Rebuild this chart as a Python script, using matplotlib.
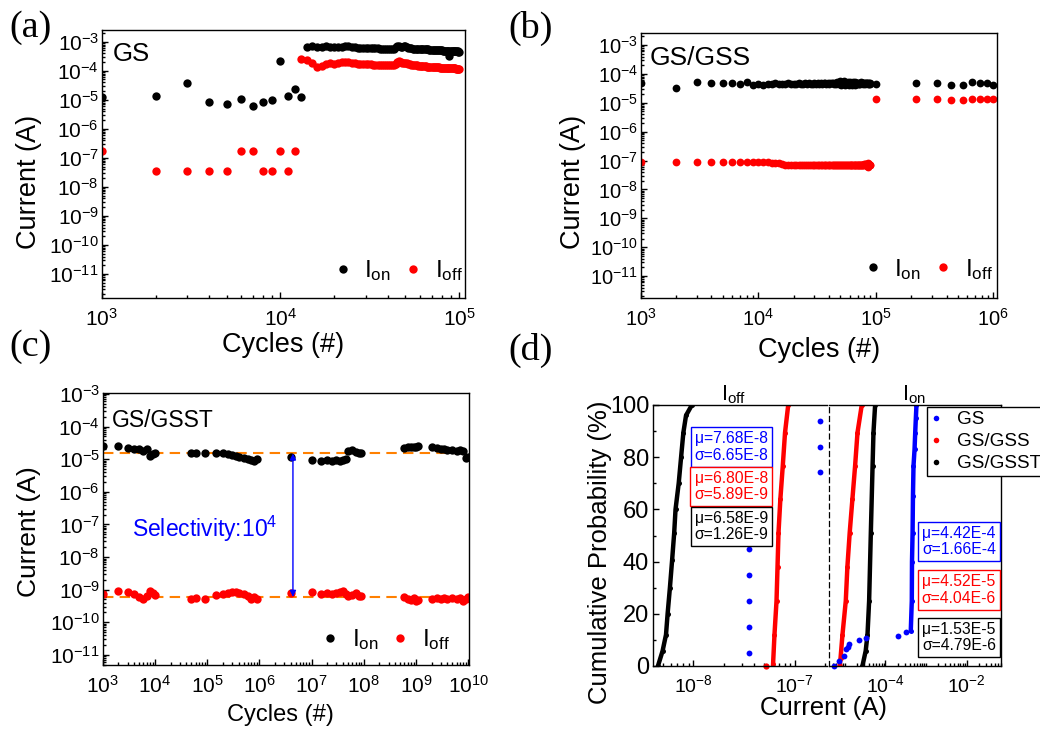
import numpy as np
import matplotlib
matplotlib.use('Agg')
import matplotlib.pyplot as plt
from matplotlib.ticker import FixedLocator, LogLocator, LogFormatterSciNotation, NullFormatter, MultipleLocator
from matplotlib.lines import Line2D

plt.rcParams['font.family'] = ['Liberation Sans', 'DejaVu Sans']
plt.rcParams['mathtext.fontset'] = 'custom'
plt.rcParams['mathtext.rm'] = 'Liberation Sans'
plt.rcParams['mathtext.it'] = 'Liberation Sans:italic'
plt.rcParams['mathtext.bf'] = 'Liberation Sans:bold'
plt.rcParams['axes.linewidth'] = 1.0

# ---------------- data: panel (a) GS ----------------
a_on_sparse_cycles = [1000, 2000, 3000, 4000, 5000, 6000, 7000, 8000, 9000, 10000, 11000, 12000, 13000]
a_on_sparse = [1.2e-5, 1.4e-5, 3.7e-5, 8.5e-6, 7.1e-6, 1.1e-5, 6.0e-6, 8.5e-6, 9.8e-6, 2.2e-4, 1.4e-5, 2.4e-5, 1.25e-5]
a_off_sparse_cycles = [1000, 2000, 3000, 4000, 5000, 6000, 7000, 8000, 9000, 10000, 11000, 12000]
a_off_sparse = [1.75e-7, 3.6e-8, 3.6e-8, 3.6e-8, 3.6e-8, 1.75e-7, 1.75e-7, 3.6e-8, 3.6e-8, 1.75e-7, 3.6e-8, 1.75e-7]
a_on_dense_kcycles = [14, 15, 16, 17, 18, 19, 20, 21, 22, 23, 24, 25, 26, 27, 28, 29, 30, 31, 32, 33,
                      34, 35, 36, 37, 38, 39, 40, 41, 42, 43, 44, 45, 46, 47, 48, 49, 50, 51, 52, 53,
                      54, 55, 56, 57, 58, 59, 60, 61, 62, 63, 64, 65, 66, 67, 68, 69, 70, 71, 72, 73,
                      74, 75, 76, 77, 78, 79, 80, 81, 82, 83, 84, 85, 86, 87, 88, 89, 90, 91, 92, 93,
                      94, 95, 96, 97, 98, 99, 100]
a_on_dense_e4 = [6.8, 6.9, 6.7, 6.8, 6.9, 6.6, 6.7, 6.5, 6.6, 6.9, 7.1, 6.6, 6.4, 6.3, 6.2, 6.2, 6.1, 6.0, 6.0, 5.9,
                 5.9, 5.9, 5.8, 5.8, 5.8, 5.8, 5.7, 5.7, 5.7, 5.8, 6.6, 7.0, 7.2, 6.8, 6.5, 6.9, 7.0, 6.6, 6.3, 6.0,
                 5.9, 5.8, 5.8, 5.7, 5.7, 5.6, 5.6, 5.6, 5.5, 5.5, 5.5, 5.4, 5.4, 5.4, 5.3, 5.3, 5.3, 5.2, 5.2, 5.2,
                 5.1, 5.1, 5.1, 5.0, 5.0, 5.0, 5.0, 4.9, 4.9, 4.9, 4.9, 4.8, 4.8, 4.8, 3.2, 4.8, 4.7, 4.7, 4.7, 4.7,
                 4.6, 4.6, 4.6, 4.6, 4.6, 4.5, 4.5]
a_off_dense_kcycles = [13, 14, 15, 16, 17, 18, 19, 20, 21, 22, 23, 24, 25, 26, 27, 28, 29, 30, 31, 32,
                       33, 34, 35, 36, 37, 38, 39, 40, 41, 42, 43, 44, 45, 46, 47, 48, 49, 50, 51, 52,
                       53, 54, 55, 56, 57, 58, 59, 60, 61, 62, 63, 64, 65, 66, 67, 68, 69, 70, 71, 72,
                       73, 74, 75, 76, 77, 78, 79, 80, 81, 82, 83, 84, 85, 86, 87, 88, 89, 90, 91, 92,
                       93, 94, 95, 96, 97, 98, 99, 100]
a_off_dense_e4 = [2.5, 2.4, 1.9, 1.35, 1.5, 1.7, 1.9, 1.75, 1.8, 2.0, 2.05, 1.95, 1.85, 1.8, 1.75, 1.72, 1.7, 1.68, 1.66, 1.65,
                  1.63, 1.62, 1.6, 1.6, 1.58, 1.58, 1.57, 1.56, 1.56, 1.55, 1.55, 1.65, 2.0, 2.1, 1.95, 1.8, 1.85, 1.9, 1.8, 1.7,
                  1.65, 1.6, 1.58, 1.55, 1.53, 1.52, 1.5, 1.48, 1.47, 1.45, 1.44, 1.43, 1.42, 1.4, 1.39, 1.38, 1.37, 1.36, 1.35, 1.34,
                  1.33, 1.32, 1.31, 1.3, 1.3, 1.29, 1.28, 1.27, 1.27, 1.26, 1.25, 1.25, 1.24, 1.24, 1.23, 1.23, 1.22, 1.22, 1.21, 1.21,
                  1.2, 1.2, 1.2, 1.19, 1.19, 1.18, 1.18, 1.18]

# ---------------- data: panel (b) GS/GSS ----------------
b_early_cycles = [1000, 2000, 3000, 4000, 5000, 6000, 7000, 8000, 9000]
b_on_early = [4.7e-5, 3.2e-5, 5.1e-5, 4.7e-5, 4.8e-5, 4.7e-5, 4.6e-5, 5.3e-5, 4.2e-5]
b_off_early = [8.8e-8, 9.1e-8, 9.0e-8, 8.9e-8, 9.1e-8, 9.0e-8, 8.9e-8, 8.8e-8, 8.7e-8]
b_dense_kcycles = [10, 11, 12, 13, 14, 15, 16, 17, 18, 19, 20, 21, 22, 23, 24, 25, 26, 27, 28, 29,
                   30, 31, 32, 33, 34, 35, 36, 37, 38, 39, 40, 41, 42, 43, 44, 45, 46, 47, 48, 49,
                   50, 51, 52, 53, 54, 55, 56, 57, 58, 59, 60, 61, 62, 63, 64, 65, 66, 67, 68, 69,
                   70, 71, 72, 73, 74, 75, 76, 77, 78, 79, 80, 81, 82, 83, 84, 85, 86, 87, 88, 89, 90]
b_on_dense_e5 = [4.5, 4.3, 4.6, 4.4, 4.7, 4.5, 4.6, 4.4, 4.7, 4.5,
                 4.6, 4.4, 4.8, 4.5, 4.6, 4.7, 4.5, 4.8, 4.6, 4.5,
                 4.8, 4.6, 4.7, 4.5, 4.9, 4.6, 4.7, 4.8, 4.5, 4.9,
                 4.6, 4.8, 4.7, 5.0, 4.6, 4.9, 4.5, 5.1, 4.7, 4.4,
                 5.5, 4.2, 5.3, 4.8, 5.6, 4.1, 5.0, 4.6, 5.4, 4.0,
                 5.2, 4.5, 5.0, 4.3, 5.3, 4.7, 4.2, 5.1, 4.6, 4.9,
                 4.4, 5.0, 4.6, 4.8, 4.5, 5.1, 4.7, 4.9, 4.6, 5.0,
                 4.8, 4.6, 5.0, 4.7, 4.9, 4.5, 4.8, 4.7, 4.6, 4.7, 4.5]
b_off_dense_e8 = [8.7, 8.6, 8.6, 8.5, 8.4, 8.3, 7.6, 7.2, 7.0, 7.1,
                  7.0, 7.1, 6.9, 7.0, 7.1, 6.9, 7.0, 7.0, 6.9, 7.1,
                  7.0, 6.9, 7.1, 7.0, 6.8, 7.0, 7.1, 6.9, 7.0, 7.0,
                  6.9, 7.1, 7.0, 6.9, 7.0, 7.2, 6.9, 7.0, 7.1, 7.0,
                  6.9, 7.0, 7.2, 7.0, 6.9, 7.1, 7.0, 6.9, 7.1, 7.0,
                  7.0, 7.1, 6.9, 7.0, 7.2, 7.0, 6.9, 7.1, 7.0, 7.2,
                  7.1, 7.0, 7.2, 7.1, 7.0, 7.2, 7.3, 7.1, 7.2, 7.4,
                  7.2, 7.5, 7.3, 7.8, 6.4, 8.0, 6.0, 7.6, 6.8, 7.2, 7.0]
b_late_cycles = [1.0e5, 2.2e5, 3.3e5, 4.4e5, 5.5e5, 6.6e5, 7.7e5, 8.8e5, 9.9e5]
b_on_late = [4.4e-5, 4.7e-5, 4.7e-5, 4.3e-5, 4.1e-5, 5.3e-5, 4.9e-5, 4.8e-5, 4.0e-5]
b_off_late = [1.35e-5, 1.35e-5, 1.32e-5, 1.3e-5, 1.3e-5, 1.33e-5, 1.33e-5, 1.35e-5, 1.37e-5]

# ---------------- data: panel (c) GS/GSST ----------------
c_cycles = [1e3, 2e3, 3e3, 4e3, 5e3, 6e3, 7e3, 8e3, 9e3, 1e4,
            5e4, 6e4, 9e4,
            1.5e5, 2e5, 2.5e5, 3e5, 3.5e5, 4e5, 5e5, 6e5, 7e5, 8e5, 9e5,
            4e6,
            1e7, 1.5e7, 2e7, 2.5e7, 3e7, 3.5e7, 4e7, 4.5e7, 5e7, 6e7, 7e7, 8e7, 9e7,
            6e8, 7e8, 8e8, 9e8, 1e9, 1.1e9,
            2e9, 2.5e9, 3e9, 3.5e9, 4e9, 5e9, 6e9, 7e9, 8e9, 9e9, 1e10]
c_on = [2.6e-5, 2.5e-5, 2.2e-5, 2.1e-5, 2.0e-5, 1.8e-5, 2.0e-5, 1.3e-5, 1.4e-5, 1.6e-5,
        1.6e-5, 1.6e-5, 1.6e-5,
        1.55e-5, 1.5e-5, 1.4e-5, 1.35e-5, 1.3e-5, 1.2e-5, 1.1e-5, 1.0e-5, 9.5e-6, 9.0e-6, 1.05e-5,
        1.2e-5,
        9.5e-6, 9.0e-6, 9.2e-6, 9.0e-6, 9.3e-6, 8.8e-6, 9.2e-6, 1.0e-5, 1.8e-5, 1.9e-5, 1.7e-5, 1.6e-5, 1.6e-5,
        2.2e-5, 2.3e-5, 2.3e-5, 2.4e-5, 2.4e-5, 2.5e-5,
        2.4e-5, 2.2e-5, 2.1e-5, 2.0e-5, 1.9e-5, 1.9e-5, 1.8e-5, 1.9e-5, 1.8e-5, 1.1e-5, 1.2e-5]
c_off = [7.3e-10, 9.3e-10, 8.2e-10, 7.6e-10, 6.0e-10, 5.0e-10, 6.5e-10, 9.0e-10, 8.0e-10, 7.0e-10,
         5.1e-10, 5.7e-10, 5.2e-10,
         6.8e-10, 7.5e-10, 8.0e-10, 8.7e-10, 8.5e-10, 7.8e-10, 7.2e-10, 6.2e-10, 5.2e-10, 6.0e-10, 5.0e-10,
         7.7e-10,
         8.2e-10, 7.5e-10, 7.8e-10, 7.2e-10, 8.0e-10, 8.5e-10, 8.8e-10, 7.5e-10, 6.5e-10, 6.8e-10, 8.0e-10, 6.5e-10, 6.2e-10,
         6.0e-10, 5.0e-10, 4.8e-10, 5.5e-10, 4.6e-10, 4.8e-10,
         5.3e-10, 5.6e-10, 5.0e-10, 5.5e-10, 5.2e-10, 5.6e-10, 5.0e-10, 5.4e-10, 4.6e-10, 5.2e-10, 6.0e-10]
c_on_mean = 1.6e-5
c_off_mean = 6.0e-10
c_arrow_cycle = 4.4e6
c_arrow_top = 1.5e-5
c_arrow_bottom = 6.0e-10

# ---------------- data: panel (d) cumulative distributions ----------------
d_off_gsst_I = [4.5e-9, 5.0e-9, 5.4e-9, 5.6e-9, 5.9e-9, 6.2e-9, 6.5e-9, 6.7e-9, 7.2e-9, 7.6e-9, 8.0e-9, 8.5e-9, 9.7e-9]
d_off_gsst_P = [0, 5.8, 12, 20, 30, 40.5, 51, 60, 70, 80, 89.4, 96, 100]
d_off_gss_I = [6.1e-8, 6.3e-8, 6.6e-8, 6.75e-8, 6.9e-8, 7.2e-8, 7.6e-8, 8.0e-8, 8.6e-8]
d_off_gss_P = [0.6, 12, 25, 38, 51, 64, 76.6, 89.4, 100]
d_off_gss_out_I = [5.2e-8]
d_off_gss_out_P = [0]
d_off_gs_I = [3.5e-8, 3.5e-8, 3.5e-8, 3.5e-8, 3.5e-8, 1.77e-7, 1.77e-7, 1.77e-7]
d_off_gs_P = [5.1, 14.8, 24.8, 34.7, 44.7, 74.3, 84, 94]
d_on_gss_I = [7.4e-6, 7.8e-6, 8.7e-6, 1.05e-5, 1.15e-5, 1.31e-5, 1.53e-5, 1.78e-5, 2.04e-5, 2.6e-5]
d_on_gss_P = [0, 3, 12, 25, 38, 51, 64, 76.6, 89.4, 100]
d_on_gsst_I = [2.7e-5, 3.25e-5, 3.6e-5, 3.95e-5, 4.35e-5, 4.8e-5, 5.05e-5, 5.55e-5]
d_on_gsst_P = [0, 5.8, 12, 25, 51, 76.6, 89.4, 100]
d_on_gs_low_I = [5.3e-6, 7.1e-6, 9.5e-6, 1.09e-5, 1.2e-5, 1.26e-5, 2.2e-5, 3.25e-5, 1.98e-4, 3.2e-4]
d_on_gs_low_P = [0, 1.9, 3.9, 6.4, 7.4, 8.4, 9.9, 10.9, 11.6, 12.9]
d_on_gs_I = [4.2e-4, 4.45e-4, 4.5e-4, 4.65e-4, 4.75e-4, 4.9e-4, 5.2e-4, 5.4e-4, 5.6e-4, 5.8e-4]
d_on_gs_P = [13.5, 25, 40, 51, 65, 76.6, 83, 89.4, 95, 100]

d_series = ['GS', 'GS/GSS', 'GS/GSST']
d_off_stats = ['\u03bc=7.68E-8\n\u03c3=6.65E-8', '\u03bc=6.80E-8\n\u03c3=5.89E-9', '\u03bc=6.58E-9\n\u03c3=1.26E-9']
d_on_stats = ['\u03bc=4.42E-4\n\u03c3=1.66E-4', '\u03bc=4.52E-5\n\u03c3=4.04E-6', '\u03bc=1.53E-5\n\u03c3=4.79E-6']

decades_a = [1e-11, 1e-10, 1e-9, 1e-8, 1e-7, 1e-6, 1e-5, 1e-4, 1e-3]

# ---------------- figure ----------------
W, H = 1040, 744
fig = plt.figure(figsize=(W / 100, H / 100), dpi=100)

def px_axes(l, t, r, b):
    return fig.add_axes([l / W, 1 - b / H, (r - l) / W, (b - t) / H])

def ftext(x, y, s, **kw):
    return fig.text(x / W, 1 - y / H, s, **kw)

RED = '#FF0000'
BLUE = '#0000FF'
ORANGE = '#FF8000'

def style_log_axes(ax, xticks, fs):
    ax.set_xscale('log')
    ax.set_yscale('log')
    ax.xaxis.set_major_locator(FixedLocator(xticks))
    ax.xaxis.set_minor_locator(LogLocator(base=10, subs=np.arange(2, 10), numticks=100))
    ax.yaxis.set_major_locator(FixedLocator(decades_a))
    ax.yaxis.set_minor_locator(LogLocator(base=10, subs=np.arange(2, 10), numticks=100))
    ax.xaxis.set_major_formatter(LogFormatterSciNotation())
    ax.yaxis.set_major_formatter(LogFormatterSciNotation())
    ax.xaxis.set_minor_formatter(NullFormatter())
    ax.yaxis.set_minor_formatter(NullFormatter())
    ax.tick_params(which='both', direction='in', top=False, right=False, width=1.0)
    ax.tick_params(which='major', length=4, labelsize=fs)
    ax.tick_params(which='minor', length=2)
    ax.tick_params(axis='y', pad=2)
    ax.tick_params(axis='x', pad=7)

def onoff_legend(ax, anchor, fs=17.5):
    h = [Line2D([], [], ls='none', marker='o', ms=6, color='black', mew=0),
         Line2D([], [], ls='none', marker='o', ms=6, color=RED, mew=0)]
    ax.legend(h, ['I$_{\\rm on}$', 'I$_{\\rm off}$'], loc='center', bbox_to_anchor=anchor,
              ncol=2, frameon=False, fontsize=fs, handlelength=0.8, handletextpad=0.5,
              columnspacing=0.5, borderpad=0, borderaxespad=0)

# ---- (a)
axa = px_axes(101.7, 30, 465, 297.7)
kc_on = [k * 1000 for k in a_on_dense_kcycles]
kc_off = [k * 1000 for k in a_off_dense_kcycles]
axa.plot(a_on_sparse_cycles, a_on_sparse, 'o', color='black', ms=6, mew=0)
axa.plot(kc_on, [v * 1e-4 for v in a_on_dense_e4], 'o', color='black', ms=6, mew=0)
axa.plot(a_off_sparse_cycles, a_off_sparse, 'o', color=RED, ms=6, mew=0)
axa.plot(kc_off, [v * 1e-4 for v in a_off_dense_e4], 'o', color=RED, ms=6, mew=0)
style_log_axes(axa, [1e3, 1e4, 1e5], 15)
axa.set_xlim(1000, 1.077e5)
axa.set_ylim(1.53e-12, 2.53e-3)
axa.text(0.03, 0.91, 'GS', transform=axa.transAxes, fontsize=18.5, va='center', ha='left')
onoff_legend(axa, (0.815, 0.10))
ftext(29, 181.7, 'Current (A)', rotation=90, fontsize=19.5, ha='center', va='center')
ftext(283.3, 345, 'Cycles (#)', fontsize=19.5, ha='center', va='center')

# ---- (b)
axb = px_axes(640.7, 33.3, 997.3, 298.3)
kc_b = [k * 1000 for k in b_dense_kcycles]
axb.plot(b_early_cycles, b_on_early, 'o', color='black', ms=5.6, mew=0)
axb.plot(kc_b, [v * 1e-5 for v in b_on_dense_e5], 'o', color='black', ms=5.6, mew=0)
axb.plot(b_late_cycles, b_on_late, 'o', color='black', ms=5.6, mew=0)
axb.plot(b_early_cycles, b_off_early, 'o', color=RED, ms=5.6, mew=0)
axb.plot(kc_b, [v * 1e-8 for v in b_off_dense_e8], 'o', color=RED, ms=5.6, mew=0)
axb.plot(b_late_cycles, b_off_late, 'o', color=RED, ms=5.6, mew=0)
style_log_axes(axb, [1e3, 1e4, 1e5, 1e6], 14.5)
axb.set_xlim(1000, 1.08e6)
axb.set_ylim(1.7e-12, 2.55e-3)
axb.text(0.025, 0.905, 'GS/GSS', transform=axb.transAxes, fontsize=19, va='center', ha='left')
onoff_legend(axb, (0.805, 0.11))
ftext(572.7, 181.7, 'Current (A)', rotation=90, fontsize=19.5, ha='center', va='center')
ftext(819, 350, 'Cycles (#)', fontsize=19.5, ha='center', va='center')

# ---- (c)
axc = px_axes(102.7, 393.3, 469.3, 665)
axc.axhline(c_on_mean, color=ORANGE, lw=1.5, dashes=(5, 3), zorder=1)
axc.axhline(c_off_mean, color=ORANGE, lw=1.5, dashes=(5, 3), zorder=1)
axc.plot(c_cycles, c_on, 'o', color='black', ms=6, mew=0, zorder=2)
axc.plot(c_cycles, c_off, 'o', color=RED, ms=6, mew=0, zorder=2)
axc.annotate('', xy=(c_arrow_cycle, c_arrow_bottom), xytext=(c_arrow_cycle, c_arrow_top),
             arrowprops=dict(arrowstyle='<|-|>', color=BLUE, lw=1.0, mutation_scale=9,
                             shrinkA=0, shrinkB=0), zorder=3)
style_log_axes(axc, [1e3, 1e4, 1e5, 1e6, 1e7, 1e8, 1e9, 1e10], 15)
axc.set_xlim(1000, 1.05e10)
axc.set_ylim(4.9e-12, 1.05e-3)
axc.text(0.025, 0.9, 'GS/GSST', transform=axc.transAxes, fontsize=16.5, va='center', ha='left')
axc.text(3.6e3, 7.4e-8, 'Selectivity:10$^{4}$', color=BLUE, fontsize=16.5, va='center', ha='left')
onoff_legend(axc, (0.77, 0.092))
ftext(29.3, 531.7, 'Current (A)', rotation=90, fontsize=19, ha='center', va='center')
ftext(280, 715, 'Cycles (#)', fontsize=17, ha='center', va='center')

# ---- (d)
axL = px_axes(653.3, 405, 827, 666)
axR = px_axes(829, 405, 1001, 666)
for ax in (axL, axR):
    ax.set_xscale('log')
    ax.set_ylim(0, 100)
    ax.tick_params(which='both', direction='in', top=False, right=False, width=1.0)
    ax.tick_params(which='major', length=4, labelsize=14, pad=6)
    ax.tick_params(which='minor', length=2)
    ax.xaxis.set_major_formatter(LogFormatterSciNotation())
    ax.xaxis.set_minor_formatter(NullFormatter())

axL.plot(d_off_gsst_I, d_off_gsst_P, '-o', color='black', lw=3.2, ms=3.6, mew=0)
axL.plot(d_off_gss_I, d_off_gss_P, '-o', color=RED, lw=3.2, ms=3.6, mew=0)
axL.plot(d_off_gss_out_I, d_off_gss_out_P, 'o', color=RED, ms=4.5, mew=0, clip_on=False)
axL.plot(d_off_gs_I, d_off_gs_P, 'o', color=BLUE, ms=4.2, mew=0)
axL.set_xlim(4.05e-9, 2.07e-7)
axL.xaxis.set_major_locator(FixedLocator([1e-8, 1e-7]))
axL.xaxis.set_minor_locator(LogLocator(base=10, subs=np.arange(2, 10), numticks=100))
axL.yaxis.set_major_locator(MultipleLocator(20))
axL.yaxis.set_minor_locator(MultipleLocator(10))
axL.tick_params(axis='y', labelsize=17, pad=3)
axL.spines['right'].set_visible(False)

axR.plot(d_on_gss_I, d_on_gss_P, '-o', color=RED, lw=3.2, ms=3.6, mew=0)
axR.plot(d_on_gsst_I, d_on_gsst_P, '-o', color='black', lw=3.2, ms=3.6, mew=0)
axR.plot(d_on_gs_low_I, d_on_gs_low_P, 'o', color=BLUE, ms=4.2, mew=0, clip_on=False)
axR.plot(d_on_gs_I, d_on_gs_P, '-o', color=BLUE, lw=3.2, ms=3.6, mew=0)
axR.set_xlim(4.05e-6, 0.0703)
axR.xaxis.set_major_locator(FixedLocator([1e-4, 1e-2]))
axR.xaxis.set_minor_locator(LogLocator(base=10, subs=np.arange(1, 10), numticks=100))
axR.tick_params(axis='y', which='both', left=False, labelleft=False)
axR.spines['left'].set_linestyle((0, (4, 3)))
axR.spines['left'].set_linewidth(0.9)

# stats boxes
cols = [BLUE, RED, 'black']
for (x, y), s, c in zip([(731.7, 447), (731.2, 486.3), (731.5, 526.3)], d_off_stats, cols):
    ftext(x, y, s, color=c, fontsize=11.3, ha='center', va='center', linespacing=1.1,
          bbox=dict(boxstyle='square,pad=0.25', fc='white', ec=c, lw=1.0))
for (x, y), s, c in zip([(959, 541.7), (959, 590), (959, 637.7)], d_on_stats, cols):
    ftext(x, y, s, color=c, fontsize=11.3, ha='center', va='center', linespacing=1.1,
          bbox=dict(boxstyle='square,pad=0.25', fc='white', ec=c, lw=1.0))

hd = [Line2D([], [], ls='none', marker='o', ms=4, color=c, mew=0) for c in cols]
leg = fig.legend(hd, d_series, loc='upper left', bbox_to_anchor=(927 / W, 1 - 407.3 / H),
                 fontsize=13.6, frameon=True, fancybox=False, edgecolor='black', framealpha=1,
                 handlelength=0.6, handletextpad=0.8, labelspacing=0.25, borderpad=0.2,
                 borderaxespad=0)
leg.get_frame().set_linewidth(1.0)

ftext(734, 400, 'I$_{\\rm off}$', fontsize=15.5, ha='center', va='baseline')
ftext(913.7, 400, 'I$_{\\rm on}$', fontsize=15.5, ha='center', va='baseline')
ftext(600, 552, 'Cumulative Probability (%)', rotation=90, fontsize=18.5, ha='center', va='center')
ftext(823.3, 708.3, 'Current (A)', fontsize=18.5, ha='center', va='center')

# panel labels
for (x, y), s in zip([(30.5, 28), (531, 28), (30.5, 347), (531, 350)], ['(a)', '(b)', '(c)', '(d)']):
    ftext(x, y, s, fontsize=27.5, family='Liberation Serif', ha='center', va='center')

fig.savefig('out.png', dpi=100)
